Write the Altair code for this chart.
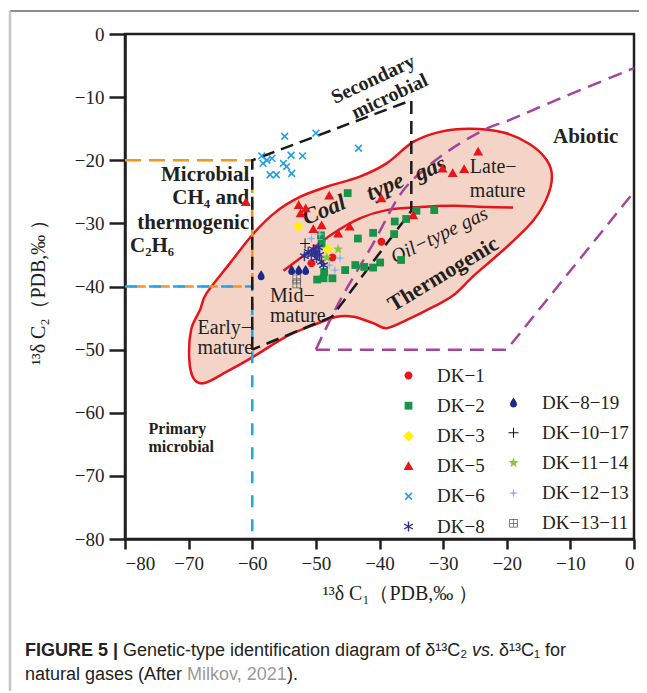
import math
import altair as alt
import pandas as pd

SERIF = "Liberation Serif"
SANS = "Liberation Sans"
INK = "#231f20"

# ---------------- sample points (δ13C1, δ13C2) ----------------
dk1_x = [-39.7, -47.4, -50.7]
dk1_y = [-32.9, -35.4, -36.3]
dk2_x = [-45.0, -34.2, -31.4, -37.6, -35.8, -41.0, -37.7, -43.4, -49.2, -49.1,
         -36.6, -39.9, -41.0, -42.4, -45.4, -47.4, -48.8, -49.8, -48.7, -43.8]
dk2_y = [-25.2, -28.0, -27.9, -29.7, -29.3, -31.5, -31.7, -32.4, -31.9, -33.2,
         -35.8, -36.2, -37.0, -36.9, -37.4, -38.7, -38.7, -38.9, -37.7, -36.6]
dk3_x = [-52.8, -48.1]
dk3_y = [-30.5, -34.1]
dk5_x = [-61.0, -47.9, -52.7, -51.6, -52.4, -50.4, -49.1, -46.5, -44.7, -39.7,
         -34.7, -30.1, -28.5, -26.7, -24.5]
dk5_y = [-26.6, -25.6, -27.1, -27.6, -28.4, -30.9, -30.3, -31.6, -30.5, -26.0,
         -28.7, -21.3, -22.0, -21.4, -18.6]
dk6_x = [-54.9, -50.0, -43.3, -58.5, -57.7, -56.9, -58.3, -53.9, -52.1, -55.1,
         -54.6, -57.2, -56.2, -53.8]
dk6_y = [-16.2, -15.7, -18.1, -19.3, -20.0, -19.7, -20.5, -19.2, -19.3, -20.5,
         -21.0, -22.3, -22.3, -22.1]
dk8_x = [-51.2, -50.2, -50.7, -49.4, -49.9, -49.1, -48.8, -50.4, -50.0, -51.8, -49.6]
dk8_y = [-34.5, -34.7, -35.0, -35.0, -35.5, -36.1, -36.6, -34.1, -34.4, -35.2, -33.8]
dk819_x = [-58.6, -53.8, -52.7, -51.6]
dk819_y = [-38.2, -37.4, -37.4, -37.4]
dk1017_x = [-51.7]
dk1017_y = [-33.2]
dk1114_x = [-46.5, -48.3]
dk1114_y = [-34.1, -35.4]
dk1213_x = [-50.7, -49.4, -46.2, -47.0, -47.9]
dk1213_y = [-32.4, -31.7, -35.5, -37.4, -36.6]
dk1311_x = [-53.0, -53.0]
dk1311_y = [-38.8, -39.6]

series_a = ["DK-1", "DK-2", "DK-3", "DK-5", "DK-6", "DK-8"]
series_b = ["DK-8-19", "DK-10-17", "DK-11-14", "DK-12-13", "DK-13-11"]
colors_a = ["#e8151b", "#17934a", "#fff100", "#e8151b", "#1ea0e6", "#2b3190"]
colors_b = ["#1b2a87", "#111111", "#8cc63f", "#8fb3e6", "#555555"]

# ---------------- field boundaries ----------------
outline_x = [-69.9, -69.6, -68.2, -67.2, -63.5, -59.8, -56.2, -52.5, -48.3, -43.1,
             -38.9, -34.7, -30.5, -25.8, -20.5, -16.3, -13.7, -12.9, -13.7, -15.8,
             -19.0, -22.1, -25.3, -28.4, -31.5, -35.7, -38.9, -41.0, -44.1, -46.7,
             -50.4, -54.6, -59.8, -64.0, -67.5, -69.2]
outline_y = [-51.5, -46.8, -43.7, -41.1, -36.3, -31.6, -28.1, -25.8, -24.2, -22.6,
             -20.5, -17.1, -15.5, -15.0, -15.6, -17.5, -20.0, -22.6, -26.0, -29.5,
             -32.8, -35.6, -38.4, -41.4, -43.2, -45.3, -46.6, -45.8, -44.8, -44.8,
             -46.1, -47.9, -51.1, -53.5, -55.3, -54.6]
inner_x = [-55.1, -51.4, -47.3, -43.1, -38.9, -33.6, -28.4, -23.2, -19.0]
inner_y = [-37.5, -34.7, -31.6, -29.2, -27.9, -27.4, -27.2, -27.4, -27.5]
black_x = [-60, -60, -35, -35, -47.5, -60]
black_y = [-50, -20, -10.5, -28, -44.8, -50]
orange_x = [-80, -60, -60, -80]
orange_y = [-20, -20, -40, -40]
blue_x = [-80, -60, -60]
blue_y = [-40, -40, -80]
purple_curve_x = [-50, -46.2, -41.0, -36.8, -33.0, -28.4, -23.2, -19.5, -11.6, 0]
purple_curve_y = [-50, -42.2, -33.2, -25.5, -21.5, -18.0, -15.0, -13.6, -10.2, -5.4]
purple_poly_x = [-50, -20, 0]
purple_poly_y = [-50, -50, -25]

ticks = [-80, -70, -60, -50, -40, -30, -20, -10, 0]

# ---------------- annotation texts ----------------
bold_labels = [("Abiotic", -7.6, -16.3)]
right_bold_labels = [("Microbial", -22.3), ("CH₄    and", -26.0), ("thermogenic", -30.0)]
left_bold_labels = [("C₂H₆", -33.6)]
rot_bold = [("Secondary", -41.0, -7.2, 335), ("microbial", -38.4, -9.9, 334),
            ("Thermogenic", -30.0, -38.0, 329)]
coal_words = [("Coal", -48.7, -27.9), ("type", -39.1, -24.2), ("gas", -32.0, -21.3)]
oil_label = [("Oil−type gas", -30.6, -31.9)]
maturity = [("Late−", -25.8, -21.0), ("mature", -25.8, -24.8),
            ("Mid−", -57.2, -41.5), ("mature", -57.2, -44.7),
            ("Early−", -68.6, -46.5), ("mature", -68.6, -49.7)]
primary = [("Primary", -76.3, -62.6), ("microbial", -76.3, -65.4)]


# ---------------- symbol shapes ----------------
def poly(pts):
    return "M" + "L".join(f"{x:.3f},{y:.3f}" for x, y in pts) + "Z"


def bar(deg, L, w):
    t = math.radians(deg)
    dx, dy = math.cos(t) * L, math.sin(t) * L
    nx, ny = -math.sin(t) * w, math.cos(t) * w
    return poly([(dx + nx, dy + ny), (-dx + nx, -dy + ny), (-dx - nx, -dy - ny), (dx - nx, dy - ny)])


def star(n, ro, ri):
    pts = []
    for k in range(2 * n):
        r = ro if k % 2 == 0 else ri
        a = math.radians(-90 + k * 180 / n)
        pts.append((r * math.cos(a), r * math.sin(a)))
    return poly(pts)


circle = "M0.8,0A0.8,0.8,0,1,1,-0.8,0A0.8,0.8,0,1,1,0.8,0Z"
square = poly([(-0.78, -0.78), (0.78, -0.78), (0.78, 0.78), (-0.78, 0.78)])
diamond = poly([(0, -1.05), (1.05, 0), (0, 1.05), (-1.05, 0)])
triangle = poly([(0, -0.95), (1, 0.8), (-1, 0.8)])
xshape = bar(45, 0.95, 0.16) + bar(135, 0.95, 0.16)
asterisk = bar(90, 1.0, 0.14) + bar(30, 1.0, 0.14) + bar(150, 1.0, 0.14)
drop = ("M0,-1C0.3,-0.5 0.7,-0.05 0.7,0.35C0.7,0.75 0.35,1 0,1"
        "C-0.35,1 -0.7,0.75 -0.7,0.35C-0.7,-0.05 -0.3,-0.5 0,-1Z")
plus = bar(0, 1.0, 0.1) + bar(90, 1.0, 0.1)
star5 = star(5, 1.05, 0.44)
star4 = star(4, 1.0, 0.24)
o, t_, c_ = 0.85, 0.14, 0.07
boxplus = f"M{-o},{-o}H{o}V{o}H{-o}Z"
for (x0, x1, y0, y1) in [(-o + t_, -c_, -o + t_, -c_), (c_, o - t_, -o + t_, -c_),
                         (-o + t_, -c_, c_, o - t_), (c_, o - t_, c_, o - t_)]:
    boxplus += f"M{x0:.2f},{y0:.2f}V{y1:.2f}H{x1:.2f}V{y0:.2f}Z"

shapes_a = [circle, square, diamond, triangle, xshape, asterisk]
shapes_b = [drop, plus, star5, star4, boxplus]

# ---------------- tables ----------------
sets = {
    "DK-1": (dk1_x, dk1_y), "DK-2": (dk2_x, dk2_y), "DK-3": (dk3_x, dk3_y),
    "DK-5": (dk5_x, dk5_y), "DK-6": (dk6_x, dk6_y), "DK-8": (dk8_x, dk8_y),
    "DK-8-19": (dk819_x, dk819_y), "DK-10-17": (dk1017_x, dk1017_y),
    "DK-11-14": (dk1114_x, dk1114_y), "DK-12-13": (dk1213_x, dk1213_y),
    "DK-13-11": (dk1311_x, dk1311_y),
}


def pts_df(names):
    rows = []
    for s in names:
        xs_, ys_ = sets[s]
        rows += [{"series": s, "x": a, "y": b} for a, b in zip(xs_, ys_)]
    return pd.DataFrame(rows)


def path_df(xv, yv):
    return pd.DataFrame({"x": xv, "y": yv, "i": list(range(len(xv)))})


xs = alt.Scale(domain=[-80, 0], nice=False, zero=False)
ys = alt.Scale(domain=[-80, 0], nice=False, zero=False)

x_axis = alt.Axis(values=ticks, format="d", grid=False, tickSize=10, tickWidth=2.5,
                  domainWidth=2.5, domainColor=INK, tickColor=INK,
                  labelFont=SERIF, labelFontSize=19, labelColor=INK, labelPadding=5,
                  title="¹³δ C₁（PDB,‰ ）", titleFont=SERIF, titleFontSize=20,
                  titleFontWeight="normal", titleColor=INK, titleX=275, titleY=54,
                  titleBaseline="middle")
y_axis = alt.Axis(values=ticks, format="d", grid=False, tickSize=16, tickWidth=2.5,
                  domainWidth=2.5, domainColor=INK, tickColor=INK,
                  labelFont=SERIF, labelFontSize=19, labelColor=INK, labelPadding=5,
                  title="¹³δ C₂（PDB,‰ ）", titleFont=SERIF, titleFontSize=20,
                  titleFontWeight="normal", titleColor=INK, titleX=-87, titleY=253,
                  titleBaseline="middle")


def XY():
    return dict(x=alt.X("x:Q", scale=xs, axis=x_axis),
                y=alt.Y("y:Q", scale=ys, axis=y_axis))


def path_layer(xv, yv, color, width, dash=None, interp="linear", fill=None):
    kw = dict(stroke=color, strokeWidth=width, interpolate=interp, strokeCap="butt")
    if dash:
        kw["strokeDash"] = dash
    if fill:
        kw["fill"] = fill
    return alt.Chart(path_df(xv, yv)).mark_line(**kw).encode(order="i:Q", **XY())


def text_layer(items, size, weight="normal", style="normal", align="center", angle=0, dx=0):
    df = pd.DataFrame([{"t": a[0], "x": a[1], "y": a[2]} for a in items])
    kw = dict(font=SERIF, fontSize=size, fontWeight=weight, fontStyle=style, align=align,
              baseline="middle", color=INK, dx=dx)
    if angle:
        kw["angle"] = angle
    return alt.Chart(df).mark_text(**kw).encode(text="t:N", **XY())


def legend(lx, ly):
    return alt.Legend(title=None, orient="none", legendX=lx, legendY=ly, direction="vertical",
                      labelFont=SERIF, labelFontSize=19, labelColor=INK, labelOffset=19,
                      symbolSize=100, symbolStrokeWidth=0, symbolOpacity=1, rowPadding=10.2,
                      padding=0, labelExpr="replace(replace(datum.label, '-', '−'), '-', '−')")


def point_layer(names, colors, shapes, lx, ly):
    leg = legend(lx, ly)
    return alt.Chart(pts_df(names)).mark_point(filled=True, opacity=1, size=100, strokeWidth=0).encode(
        color=alt.Color("series:N", scale=alt.Scale(domain=names, range=colors), legend=leg),
        shape=alt.Shape("series:N", scale=alt.Scale(domain=names, range=shapes), legend=leg),
        **XY())


layers = [
    path_layer(outline_x, outline_y, "#e5141b", 2.5, interp="cardinal-closed", fill="#f3d4c6"),
    path_layer(inner_x, inner_y, "#e5141b", 2.5, interp="cardinal"),
    path_layer(purple_curve_x, purple_curve_y, "#a4449c", 2.5, dash=[14, 8], interp="cardinal"),
    path_layer(purple_poly_x, purple_poly_y, "#a4449c", 2.5, dash=[14, 8]),
    path_layer(orange_x, orange_y, "#f7941d", 2.5, dash=[16, 8]),
    path_layer(blue_x, blue_y, "#1ea6e6", 2.5, dash=[12, 12]),
    path_layer(black_x, black_y, "#1a1a1a", 2.5, dash=[13, 7]),
    text_layer(bold_labels, 21, weight="bold"),
    text_layer([(a, -60, b) for a, b in right_bold_labels], 21, weight="bold", align="right", dx=-3),
    text_layer([(a, -80, b) for a, b in left_bold_labels], 21, weight="bold", align="left", dx=5),
    text_layer(rot_bold[:2], 20, weight="bold", angle=335),
    text_layer(rot_bold[2:], 22, weight="bold", angle=329),
    text_layer(coal_words, 23, weight="bold", style="italic", angle=337),
    text_layer(oil_label, 20, style="italic", angle=334),
    text_layer(maturity, 20, align="left"),
    text_layer(primary, 16, weight="bold", align="left"),
    point_layer(series_a, colors_a, shapes_a, 274, 332),
    point_layer(series_b, colors_b, shapes_b, 379, 359),
]

# figure frame and caption (outside the plot area)
one = pd.DataFrame({"t": [""]})
frame_top = alt.Chart(one).mark_rule(color="#666666", strokeWidth=1.3).encode(
    x=alt.value(-115), x2=alt.value(514), y=alt.value(-23))
frame_left = alt.Chart(one).mark_rule(color="#c4c4c4", strokeWidth=2.5).encode(
    x=alt.value(-115), y=alt.value(-23), y2=alt.value(662))


def caption(text, x, y, weight="normal", style="normal", color="#222222"):
    return alt.Chart(pd.DataFrame({"t": [text]})).mark_text(
        font=SANS, fontSize=18, fontWeight=weight, fontStyle=style, color=color,
        align="left", baseline="middle").encode(text="t:N", x=alt.value(x), y=alt.value(y))


caps = [
    caption("FIGURE 5 |", -100, 617, weight="bold"),
    caption("Genetic-type identification diagram of δ¹³C₂", -2, 617),
    caption("vs.", 347, 617, style="italic"),
    caption("δ¹³C₁ for", 374, 617),
    caption("natural gases (After", -100, 641),
    caption("Milkov, 2021", 62, 641, color="#9a9a9a"),
    caption(").", 162, 641),
]

chart = alt.layer(*layers, frame_top, frame_left, *caps).resolve_scale(
    color="independent", shape="independent"
).properties(
    width=509, height=505,
    padding={"left": 117, "top": 26, "right": 5, "bottom": 152},
    autosize=alt.AutoSizeParams(type="none"),
    background="white",
).configure_view(stroke=INK, strokeWidth=2.5)

chart.save("out.html", embed_options={"renderer": "svg", "actions": False})
